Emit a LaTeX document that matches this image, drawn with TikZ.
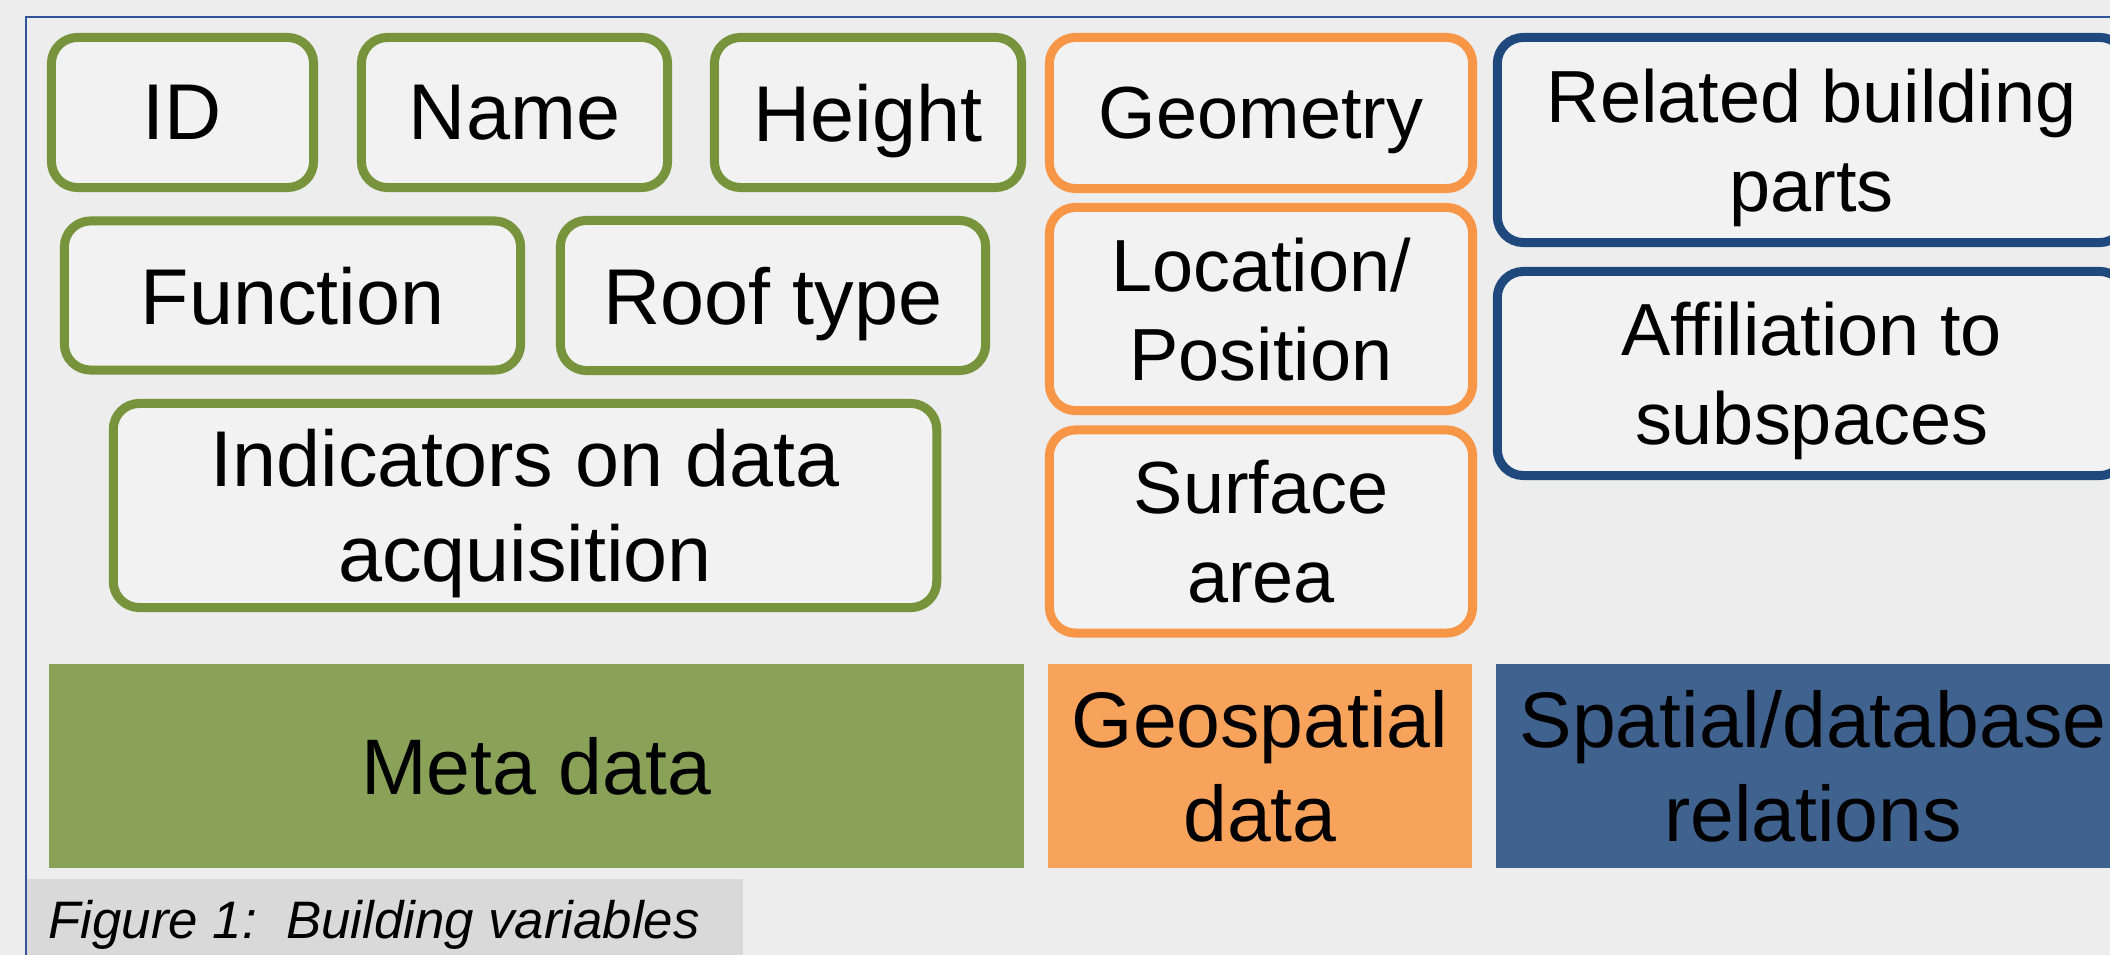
\documentclass[tikz,border=0pt]{standalone}
\usepackage{fontspec}
\setmainfont{Liberation Sans}
\definecolor{bgcol}{HTML}{EDEDED}
\definecolor{boxfill}{HTML}{F2F2F2}
\definecolor{grnB}{HTML}{77933C}
\definecolor{orgB}{HTML}{F79646}
\definecolor{bluB}{HTML}{1F497D}
\definecolor{grnF}{HTML}{8AA258}
\definecolor{orgF}{HTML}{F7A35C}
\definecolor{bluF}{HTML}{3F628F}
\definecolor{capgray}{HTML}{D9D9D9}
\definecolor{framecol}{HTML}{2F5597}
\tikzset{
  rbox/.style={draw, line width=2.56pt, rounded corners=7.4pt, fill=boxfill, align=center, inner sep=0pt, text=black, text depth=0pt},
  gbox/.style={rbox, draw=grnB, font=\fontsize{22.5}{27}\selectfont},
  obox/.style={rbox, draw=orgB, font=\fontsize{21}{25.3}\selectfont},
  blbox/.style={rbox, draw=bluB, font=\fontsize{21}{25.3}\selectfont},
  bar/.style={inner sep=0pt, align=center, text=black, text depth=0pt, font=\fontsize{22.4}{26.7}\selectfont, minimum height=2.04cm},
}
\begin{document}
\begin{tikzpicture}[x=0.01cm, y=-0.01cm]
\useasboundingbox (0,0) rectangle (2110,955);
\clip (0,0) rectangle (2110,955);
\fill[bgcol] (0,0) rectangle (2110,955);
% green meta boxes
\node[gbox, minimum width=2.62cm, minimum height=1.50cm] (id) at (182.5,112.5) {ID};
\node[gbox, minimum width=3.06cm, minimum height=1.50cm] (name) at (514.5,112.5) {Name};
\node[gbox, minimum width=3.07cm, minimum height=1.50cm] (height) at (868,112.5) {Height};
\node[gbox, minimum width=4.56cm, minimum height=1.49cm] (function) at (292.5,295.5) {Function};
\node[gbox, minimum width=4.25cm, minimum height=1.50cm] (roof) at (773,295.5) {Roof type};
\node[gbox, minimum width=8.23cm, minimum height=2.04cm] (indic) at (525,505.5) {Indicators on data\\acquisition};
% orange geospatial boxes
\node[obox, minimum width=4.23cm, minimum height=1.51cm] (geom) at (1261,113) {Geometry};
\node[obox, minimum width=4.23cm, minimum height=2.03cm] (loc) at (1261,309) {Location/\\Position};
\node[obox, minimum width=4.23cm, minimum height=2.03cm] (surf) at (1261,531.5) {Surface\\area};
% blue relation boxes
\node[blbox, minimum width=6.28cm, minimum height=2.05cm] (related) at (1811.5,140) {Related building\\parts};
\node[blbox, minimum width=6.28cm, minimum height=2.04cm] (affil) at (1811.5,373.5) {Affiliation to\\subspaces};
% category bars
\node[bar, fill=grnF, minimum width=9.75cm] (meta) at (536.5,766) {Meta data};
\node[bar, fill=orgF, minimum width=4.24cm] (geo) at (1260,766) {Geospatial\\data};
\node[bar, fill=bluF, minimum width=6.34cm] (spatial) at (1813,766) {Spatial/database\\relations};
% caption
\node[fill=capgray, anchor=north west, minimum width=7.16cm, minimum height=0.9cm, inner sep=0pt] (capbox) at (26,878) {};
\node[anchor=base west, inner sep=0pt, font=\fontsize{15}{18}\selectfont\itshape] (cap) at (48,938) {Figure 1:\ \ Building variables};
% frame
\draw[framecol, line width=0.6pt] (26,970) -- (26,17) -- (2130,17);
\end{tikzpicture}
\end{document}
